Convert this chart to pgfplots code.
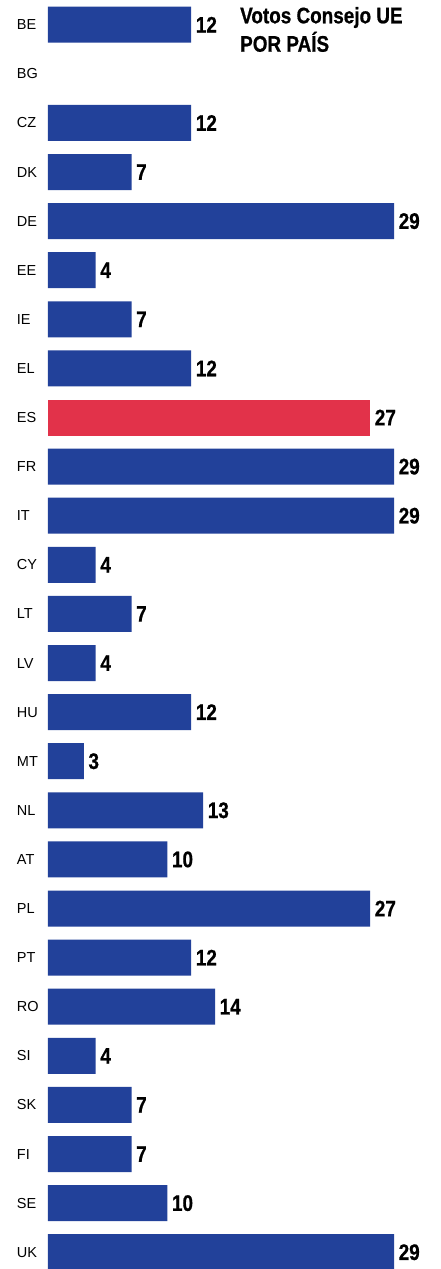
\documentclass[border=0pt]{standalone}
\usepackage{pgfplots}
\pgfplotsset{compat=1.18}
\usepackage{fontspec}
\setmainfont{Liberation Sans}
\newfontfamily\condfont[FakeStretch=0.84,FakeBold=0.7]{Liberation Sans}
\definecolor{barblue}{RGB}{34,65,154}
\definecolor{barred}{RGB}{226,50,74}
\begin{document}
\begin{tikzpicture}
\path[use as bounding box] (0pt,0pt) rectangle (441pt,-1269pt);
\begin{axis}[
  at={(48pt,-24.7pt)}, anchor=origin,
  x=11.931pt, y=49.1pt, y dir=reverse,
  xmin=0, xmax=30, ymin=-0.5, ymax=25.5,
  xbar, bar width=36pt, bar shift=0pt,
  clip=false,
  axis line style={draw=none},
  tick style={draw=none},
  xtick=\empty,
  ytick={0,...,25},
  yticklabels={BE,BG,CZ,DK,DE,EE,IE,EL,ES,FR,IT,CY,LT,LV,HU,MT,NL,AT,PL,PT,RO,SI,SK,FI,SE,UK},
  yticklabel style={font=\fontsize{14.5}{16}\selectfont, anchor=west, inner sep=0pt, xshift=-27pt},
  nodes near coords={\pgfmathprintnumber{\pgfplotspointmeta}},
  nodes near coords style={font=\condfont\bfseries\fontsize{22.5}{24}\selectfont, anchor=west, inner sep=0pt, xshift=4.5pt, /pgf/number format/assume math mode=true},
]
\addplot[fill=barblue, draw=none] coordinates {
 (12,0) (12,2) (7,3) (29,4) (4,5) (7,6) (12,7)
 (29,9) (29,10) (4,11) (7,12) (4,13) (12,14) (3,15) (13,16) (10,17)
 (27,18) (12,19) (14,20) (4,21) (7,22) (7,23) (10,24) (29,25)
};
\addplot[fill=barred, draw=none] coordinates {(27,8)};
\end{axis}
\node[anchor=base west, inner sep=0pt, font=\condfont\bfseries\fontsize{22.5}{24}\selectfont] at (240pt,-23.3pt) {Votos Consejo UE};
\node[anchor=base west, inner sep=0pt, font=\condfont\bfseries\fontsize{22.5}{24}\selectfont] at (240pt,-51.7pt) {POR PAÍS};
\end{tikzpicture}
\end{document}
